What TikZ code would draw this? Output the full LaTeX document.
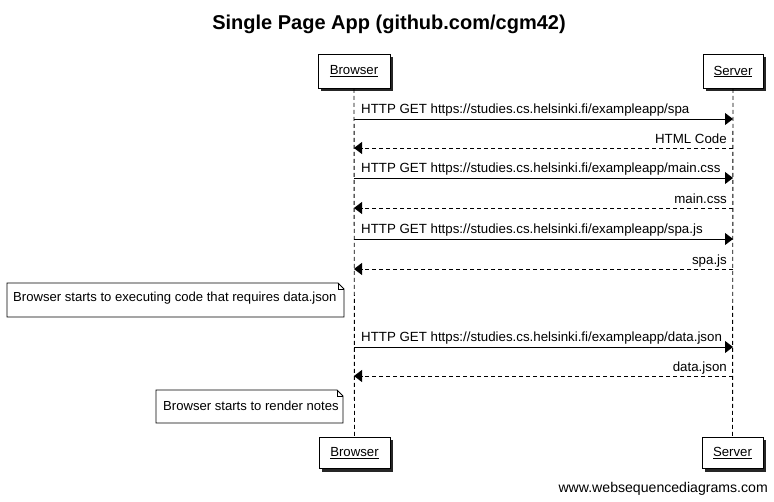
\documentclass[tikz,border=0pt]{standalone}
\usepackage{fontspec}
\setmainfont{Liberation Sans}
\usetikzlibrary{arrows.meta,shadows}
\begin{document}
\begin{tikzpicture}[x=1pt,y=-1pt,
  actor/.style={draw,line width=1pt,fill=white,inner sep=0pt,
    font=\fontsize{13.2}{15}\selectfont,
    drop shadow={shadow xshift=3pt,shadow yshift=-3pt,fill=black!85,opacity=1}},
  msg/.style={line width=0.9pt,-{Triangle[length=8pt,width=12pt]}},
  ret/.style={msg,dash pattern=on 4pt off 3pt},
  life/.style={line width=0.9pt,dash pattern=on 4pt off 3pt},
  lbl/.style={font=\fontsize{13.3}{15}\selectfont,inner sep=0pt},
  callabel/.style={lbl,anchor=base west},
  retlabel/.style={lbl,anchor=base east},
  notelbl/.style={font=\fontsize{13.1}{15}\selectfont,inner sep=0pt,anchor=base west},
  notebox/.style={draw,line width=0.9pt,fill=white}
]
\fill[white] (0,0) rectangle (774,502);
\useasboundingbox (0,0) rectangle (774,502);

% title
\node[font=\bfseries\fontsize{20}{22}\selectfont,anchor=base,inner sep=0pt] (title) at (389,30) {Single Page App (github.com/cgm42)};

% participants
\node[actor,minimum width=72pt,minimum height=34pt] (bt) at (354,71.5) {\underline{Browser}};
\node[actor,minimum width=60pt,minimum height=34pt] (st) at (733,71.5) {\underline{Server}};
\node[actor,minimum width=71pt,minimum height=31pt] (bb) at (354.5,453) {\underline{Browser}};
\node[actor,minimum width=61pt,minimum height=31pt] (sb) at (732.5,453) {\underline{Server}};

% lifelines
\draw[life] (bt.south) -- (bb.north);
\draw[life] (st.south) -- (sb.north);

% message end points
\coordinate (b1) at (354,119); \coordinate (s1) at (733,119);
\coordinate (b2) at (354,148); \coordinate (s2) at (733,148);
\coordinate (b3) at (354,178); \coordinate (s3) at (733,178);
\coordinate (b4) at (354,208); \coordinate (s4) at (733,208);
\coordinate (b5) at (354,239); \coordinate (s5) at (733,239);
\coordinate (b6) at (354,269); \coordinate (s6) at (733,269);
\coordinate (b7) at (354,347); \coordinate (s7) at (733,347);
\coordinate (b8) at (354,376); \coordinate (s8) at (733,376);

\draw[msg] (b1) -- (s1);
\node[callabel] (l1) at (361,114) {HTTP GET https://studies.cs.helsinki.fi/exampleapp/spa};
\draw[ret] (s2) -- (b2);
\node[retlabel] (l2) at (727,144) {HTML Code};
\draw[msg] (b3) -- (s3);
\node[callabel] (l3) at (361,173) {HTTP GET https://studies.cs.helsinki.fi/exampleapp/main.css};
\draw[ret] (s4) -- (b4);
\node[retlabel] (l4) at (727,204) {main.css};
\draw[msg] (b5) -- (s5);
\node[callabel] (l5) at (361,234) {HTTP GET https://studies.cs.helsinki.fi/exampleapp/spa.js};
\draw[ret] (s6) -- (b6);
\node[retlabel] (l6) at (727,265) {spa.js};
\draw[msg] (b7) -- (s7);
\node[callabel] (l7) at (361,342) {HTTP GET https://studies.cs.helsinki.fi/exampleapp/data.json};
\draw[ret] (s8) -- (b8);
\node[retlabel] (l8) at (727,372) {data.json};

% notes
\draw[notebox] (7,283) -- (338,283) -- (344,289) -- (344,317) -- (7,317) -- cycle;
\draw[line width=0.6pt] (338,283) -- (338,289) -- (344,289);
\node[notelbl] (n1) at (13,302) {Browser starts to executing code that requires data.json};

\draw[notebox] (156,390) -- (337,390) -- (343,396) -- (343,423) -- (156,423) -- cycle;
\draw[line width=0.6pt] (337,390) -- (337,396) -- (343,396);
\node[notelbl] (n2) at (163,411) {Browser starts to render notes};

% footer
\node[anchor=base east,font=\fontsize{14.1}{16}\selectfont,inner sep=0pt] (foot) at (768,493) {www.websequencediagrams.com};
\end{tikzpicture}
\end{document}
